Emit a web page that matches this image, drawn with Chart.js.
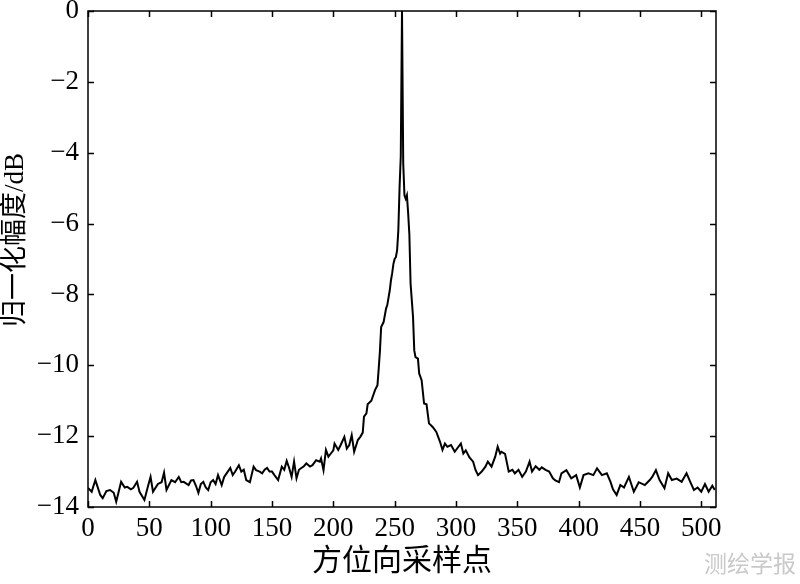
<!DOCTYPE html>
<html>
<head>
<meta charset="utf-8">
<script src="https://cdn.jsdelivr.net/npm/chart.js@4.4.1/dist/chart.umd.min.js"></script>
<style>
  html, body { margin: 0; padding: 0; background: #fff; }
  #wrap { width: 800px; height: 584px; }
</style>
</head>
<body>
<div id="wrap"><canvas id="c" width="800" height="584"></canvas></div>
<script>
// azimuth sample index
const samples = [
  0, 3, 6, 10, 12, 15, 18, 21, 23, 27, 30, 32, 35, 37, 40, 42, 46, 49, 51, 53,
  57, 60, 62, 64, 68, 71, 74, 76, 78, 82, 84, 86, 88, 90, 92, 94, 96, 98, 100, 102,
  104, 106, 109, 111, 113, 116, 118, 120, 123, 125, 127, 129, 132, 135, 137, 140, 142, 144, 146, 148,
  150, 152, 155, 158, 160, 162, 164, 166, 168, 170, 172, 174, 176, 178, 181, 183, 186, 189, 190, 192,
  194, 196, 198, 200, 201, 204, 206, 209, 211, 213, 215, 217, 220, 222, 224, 225, 227, 228, 231, 234,
  236, 237, 238, 239, 241, 243, 244, 246, 247, 248, 249, 250, 251, 252, 253, 254, 255, 256, 257, 258,
  259, 260, 261, 262, 263, 265, 266, 267, 269, 270, 272, 274, 276, 278, 281, 284, 287, 289, 291, 293,
  296, 299, 302, 304, 306, 308, 311, 314, 316, 318, 321, 324, 326, 329, 332, 334, 336, 337, 340, 343,
  346, 348, 351, 354, 357, 360, 362, 365, 368, 370, 373, 376, 379, 381, 384, 386, 390, 394, 398, 401,
  404, 408, 412, 415, 419, 423, 426, 428, 431, 434, 437, 441, 445, 449, 454, 458, 460, 463, 466, 470,
  473, 476, 480, 484, 488, 491, 494, 497, 500, 503, 506, 509, 511
];

// normalized amplitude in dB
const amplitude = [
  -13.46, -13.57, -13.24, -13.66, -13.75, -13.55, -13.52, -13.6, -13.85, -13.29, -13.45, -13.43, -13.5, -13.46, -13.29, -13.57, -13.8, -13.4, -13.15, -13.57,
  -13.35, -13.3, -13.03, -13.52, -13.24, -13.3, -13.15, -13.3, -13.29, -13.38, -13.25, -13.24, -13.4, -13.6, -13.35, -13.29, -13.45, -13.52, -13.3, -13.24,
  -13.35, -13.1, -13.38, -13.15, -13.05, -12.9, -13.1, -13.0, -12.82, -13.0, -12.95, -13.24, -13.3, -12.86, -12.96, -13.0, -13.05, -12.95, -12.9, -13.0,
  -13.0, -13.1, -13.24, -12.86, -12.95, -12.7, -12.9, -13.15, -12.72, -13.19, -12.95, -12.9, -12.85, -12.77, -12.86, -12.82, -12.68, -12.72, -12.63, -12.96,
  -12.39, -12.58, -12.49, -12.4, -12.21, -12.39, -12.25, -12.02, -12.35, -12.25, -11.97, -12.44, -12.11, -12.02, -11.9, -11.45, -11.36, -11.1, -11.0, -10.7,
  -10.56, -10.1, -9.6, -8.92, -8.78, -8.4, -8.3, -7.89, -7.6, -7.4, -7.14, -7.0, -6.95, -6.76, -6.2, -5.0, -4.1, 0, -4.3, -5.2,
  -5.3, -5.2, -5.7, -6.3, -7.7, -8.64, -9.58, -9.77, -9.81, -10.23, -10.42, -11.08, -11.1, -11.64, -11.74, -11.88, -12.16, -12.39, -12.21, -12.3,
  -12.25, -12.44, -12.3, -12.21, -12.49, -12.4, -12.6, -12.72, -12.96, -13.1, -13.0, -12.86, -12.72, -12.86, -12.58, -12.3, -12.49, -12.44, -12.5, -13.0,
  -12.95, -13.05, -12.95, -13.15, -13.0, -12.72, -13.0, -12.85, -12.95, -12.88, -12.95, -13.0, -13.19, -13.25, -13.3, -13.05, -12.96, -13.19, -13.1, -13.45,
  -13.1, -13.05, -13.1, -12.91, -13.1, -13.05, -13.29, -13.5, -13.66, -13.38, -13.45, -13.15, -13.57, -13.3, -13.38, -13.24, -13.15, -12.96, -13.24, -13.47,
  -13.05, -13.24, -13.2, -13.29, -13.05, -13.29, -13.52, -13.45, -13.57, -13.35, -13.57, -13.4, -13.52
];

const xTitle = '方位向采样点';
const yTitle = '归一化幅度/dB';
const watermark = '测绘学报';

const serif = "'Liberation Serif', 'Noto Sans CJK SC', serif";

const points = samples.map((s, i) => ({ x: s, y: amplitude[i] }));

// MATLAB style box with ticks pointing inward, plus y label and watermark
const boxPlugin = {
  id: 'box',
  afterDraw(chart) {
    const { ctx, chartArea: a, scales } = chart;
    const len = 6;
    ctx.save();
    ctx.strokeStyle = '#000';
    ctx.lineWidth = 1.5;
    ctx.strokeRect(a.left, a.top, a.right - a.left, a.bottom - a.top);
    ctx.beginPath();
    scales.x.ticks.forEach(t => {
      const px = Math.round(scales.x.getPixelForValue(t.value)) + 0.5;
      ctx.moveTo(px, a.bottom); ctx.lineTo(px, a.bottom - len);
      ctx.moveTo(px, a.top); ctx.lineTo(px, a.top + len);
    });
    scales.y.ticks.forEach(t => {
      const py = Math.round(scales.y.getPixelForValue(t.value)) + 0.5;
      ctx.moveTo(a.left, py); ctx.lineTo(a.left + len, py);
      ctx.moveTo(a.right, py); ctx.lineTo(a.right - len, py);
    });
    ctx.stroke();

    // y axis label, rotated
    ctx.fillStyle = '#000';
    ctx.font = '27px ' + serif;
    ctx.textAlign = 'center';
    ctx.textBaseline = 'middle';
    ctx.translate(16, 240);
    ctx.rotate(-Math.PI / 2);
    ctx.fillText(yTitle, 0, 0);
    ctx.setTransform(1, 0, 0, 1, 0, 0);

    ctx.fillStyle = '#c9c9c9';
    ctx.font = "23px 'Noto Sans CJK SC'";
    ctx.fillText(watermark, 750, 563);
    ctx.restore();
  }
};

const minus = v => String(v).replace('-', '\u2212');

new Chart(document.getElementById('c'), {
  type: 'line',
  data: {
    datasets: [{
      data: points,
      borderColor: '#000',
      borderWidth: 2,
      pointRadius: 0,
      tension: 0,
      fill: false
    }]
  },
  options: {
    responsive: false,
    animation: false,
    layout: { padding: { top: 11, right: 84, left: 0, bottom: 0 } },
    plugins: { legend: { display: false }, tooltip: { enabled: false } },
    scales: {
      x: {
        type: 'linear',
        min: 0,
        max: 512,
        grid: { display: false, drawTicks: false },
        border: { display: false },
        ticks: {
          stepSize: 50,
          includeBounds: false,
          maxRotation: 0,
          padding: 6,
          color: '#000',
          font: { family: serif, size: 27 }
        },
        title: {
          display: true,
          text: xTitle,
          color: '#000',
          font: { family: serif, size: 30 },
          padding: { top: 0, bottom: 4 }
        },
        afterFit(scale) { scale.height = 77; }
      },
      y: {
        min: -14,
        max: 0,
        grid: { display: false, drawTicks: false },
        border: { display: false },
        ticks: {
          stepSize: 2,
          padding: 9,
          color: '#000',
          font: { family: serif, size: 27 },
          callback: v => minus(v)
        },
        afterFit(scale) {
          scale.width = 88;
          scale.paddingTop = 0;
          scale.paddingBottom = 0;
        }
      }
    }
  },
  plugins: [boxPlugin]
});
</script>
</body>
</html>
